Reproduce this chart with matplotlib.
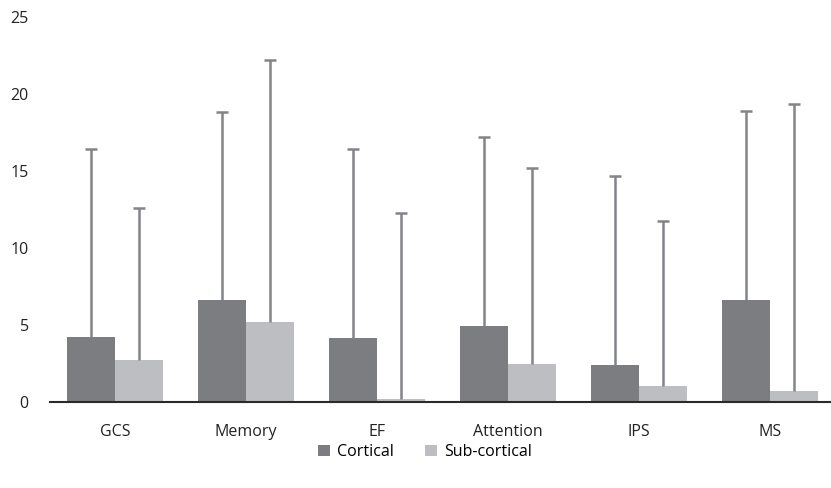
import matplotlib.pyplot as plt
import numpy as np

plt.rcParams['font.family'] = ['Open Sans', 'DejaVu Sans']

categories = ["GCS", "Memory", "EF", "Attention", "IPS", "MS"]
cortical = [4.2, 6.6, 4.15, 4.95, 2.4, 6.62]
cortical_top = [16.45, 18.83, 16.4, 17.19, 14.68, 18.9]
subcortical = [2.73, 5.17, 0.17, 2.47, 1.05, 0.72]
subcortical_top = [12.62, 22.2, 12.27, 15.17, 11.77, 19.35]

c_dark = "#7c7d80"
c_light = "#bdbec1"
c_err = "#838488"

x = np.arange(len(categories))
w = 0.366

fig = plt.figure(figsize=(8.31, 4.88), dpi=100)
ax = fig.add_axes([49.5 / 831, 86 / 488, 786 / 831, 385 / 488])

ax.bar(x - w / 2, cortical, w, color=c_dark, label="Cortical")
ax.bar(x + w / 2, subcortical, w, color=c_light, label="Sub-cortical")

# upper error bars only
for xs, lo, hi in [(x - w / 2, cortical, cortical_top), (x + w / 2, subcortical, subcortical_top)]:
    ax.vlines(xs, lo, hi, color=c_err, lw=1.8, zorder=1)
    ax.plot(xs, hi, ls="none", marker="_", ms=8.5, mew=1.8, color=c_err, zorder=1)

ax.set_xlim(-0.5, len(x) - 0.5)
ax.set_ylim(0, 25)
ax.set_yticks([0, 5, 10, 15, 20, 25])
ax.set_xticks(x)
ax.set_xticklabels(categories)
ax.tick_params(axis='both', length=0, labelsize=11.5, colors="#222222")
ax.tick_params(axis='y', pad=15)
ax.tick_params(axis='x', pad=16)

for s in ["top", "right", "left"]:
    ax.spines[s].set_visible(False)
ax.spines["bottom"].set_color("#2a2a2a")
ax.spines["bottom"].set_linewidth(1.5)
ax.spines["bottom"].set_zorder(5)

fig.legend(loc="center", bbox_to_anchor=(425 / 831, 1 - 452 / 488), ncol=2,
           frameon=False, fontsize=11.5, handlelength=0.75, handleheight=0.75,
           handletextpad=0.4, columnspacing=2.0)

fig.savefig("out.png", dpi=100)
